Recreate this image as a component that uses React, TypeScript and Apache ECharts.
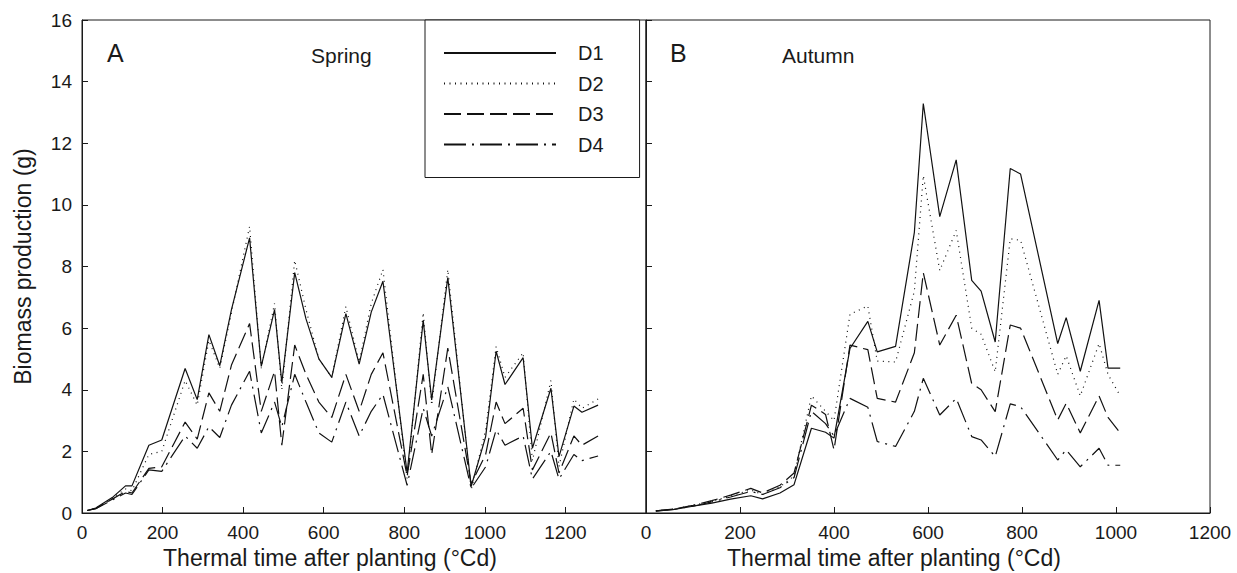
import React, { useEffect, useRef } from "react";
import * as echarts from "echarts";

const springX = [13, 34, 75, 108, 124, 166, 198, 256, 286, 315, 342, 371, 416, 445, 478, 496, 528, 556, 588, 620, 655, 688, 718, 747, 807, 847, 868, 908, 966, 1002, 1028, 1050, 1095, 1118, 1164, 1184, 1221, 1241, 1281];
const springD1 = [0.08, 0.16, 0.5, 0.88, 0.88, 2.2, 2.37, 4.69, 3.68, 5.79, 4.78, 6.6, 8.93, 4.76, 6.6, 4.23, 7.8, 6.3, 5.0, 4.4, 6.47, 4.83, 6.52, 7.52, 1.3, 6.25, 3.67, 7.64, 0.86, 2.48, 5.25, 4.17, 5.04, 2.1, 4.05, 1.83, 3.47, 3.27, 3.5];
const springD2 = [0.08, 0.15, 0.48, 0.78, 0.72, 1.9, 2.0, 4.3, 3.5, 5.6, 4.7, 6.5, 9.3, 4.7, 6.8, 4.0, 8.2, 6.6, 5.0, 4.4, 6.7, 4.9, 6.8, 7.9, 1.1, 6.5, 3.5, 7.9, 0.75, 2.7, 5.4, 4.4, 5.2, 1.7, 4.3, 1.5, 3.7, 3.4, 3.7];
const springD3 = [0.08, 0.14, 0.45, 0.7, 0.65, 1.45, 1.5, 2.95, 2.4, 3.9, 3.3, 4.8, 6.15, 3.3, 4.6, 2.2, 5.45, 4.5, 3.6, 3.1, 4.5, 3.3, 4.5, 5.2, 1.2, 4.5, 1.9, 5.35, 0.95, 1.9, 3.6, 2.9, 3.4, 1.4, 2.6, 1.3, 2.5, 2.2, 2.5];
const springD4 = [0.08, 0.14, 0.42, 0.65, 0.6, 1.4, 1.35, 2.5, 2.1, 2.8, 2.45, 3.5, 4.6, 2.6, 3.6, 2.8, 4.5, 3.6, 2.6, 2.3, 3.6, 2.5, 3.3, 3.85, 0.9, 3.4, 2.5, 4.1, 0.8, 1.5, 2.7, 2.2, 2.5, 1.1, 2.0, 1.1, 1.9, 1.7, 1.85];

const autumnX = [21, 60, 100, 140, 180, 223, 248, 285, 315, 352, 382, 400, 434, 472, 492, 531, 571, 590, 625, 660, 693, 713, 743, 775, 797, 876, 894, 924, 964, 983, 1009];
const autumnD1 = [0.07, 0.12, 0.22, 0.32, 0.45, 0.56, 0.46, 0.65, 0.92, 2.75, 2.62, 2.43, 5.34, 6.22, 5.23, 5.41, 9.11, 13.29, 9.62, 11.46, 7.55, 7.2, 5.55, 11.18, 11.0, 5.5, 6.34, 4.6, 6.9, 4.7, 4.7];
const autumnD2 = [0.07, 0.13, 0.25, 0.38, 0.55, 0.75, 0.6, 0.85, 1.2, 3.8, 3.3, 3.0, 6.45, 6.72, 4.93, 4.9, 7.2, 10.95, 7.87, 9.17, 6.0, 5.8, 4.58, 8.9, 8.85, 4.5, 5.1, 3.8, 5.5, 4.5, 3.8];
const autumnD3 = [0.07, 0.13, 0.25, 0.4, 0.58, 0.8, 0.65, 0.9, 1.3, 3.5, 3.2, 2.05, 5.45, 5.3, 3.72, 3.6, 5.2, 7.8, 5.45, 6.42, 4.2, 4.0, 3.29, 6.1, 6.0, 3.02, 3.56, 2.6, 3.8, 3.1, 2.6];
const autumnD4 = [0.06, 0.12, 0.22, 0.36, 0.52, 0.7, 0.6, 0.82, 1.15, 3.3, 2.9, 2.5, 3.72, 3.43, 2.32, 2.16, 3.3, 4.37, 3.18, 3.72, 2.48, 2.37, 1.83, 3.54, 3.45, 1.72, 2.05, 1.5, 2.1, 1.55, 1.55];

const seriesNames = ["D1", "D2", "D3", "D4"];
const xAxisTitle = "Thermal time after planting (°Cd)";
const yAxisTitle = "Biomass production (g)";

const FONT = "Liberation Sans";
const INK = "#1a1a1a";

const dashTypes: any[] = ["solid", [1, 4.5], [17, 6], [22, 6, 2, 6]];

const zip = (xs: number[], ys: number[]) => xs.map((x, i) => [x, ys[i]]);

export default function App() {
  const ref = useRef<HTMLDivElement>(null);
  useEffect(() => {
    if (!ref.current) return;
    const chart = echarts.init(ref.current, undefined, { renderer: "svg" });
    const axisCommon = {
      axisLine: { lineStyle: { color: INK, width: 1 } },
      axisTick: { inside: true, length: 6, lineStyle: { color: INK } },
      splitLine: { show: false },
      axisLabel: { fontSize: 19, color: INK, fontFamily: FONT, margin: 10, formatter: (v: number) => String(v) },
      nameTextStyle: { fontSize: 23, color: INK, fontFamily: FONT },
    };
    const spring = [springD1, springD2, springD3, springD4];
    const autumn = [autumnD1, autumnD2, autumnD3, autumnD4];
    const series: any[] = [];
    seriesNames.forEach((name, i) => {
      series.push({
        name,
        type: "line",
        xAxisIndex: 0,
        yAxisIndex: 0,
        symbol: "none",
        data: zip(springX, spring[i]),
        lineStyle: { color: "#111", width: 1.2, type: dashTypes[i] },
        itemStyle: { color: "#111" },
      });
    });
    seriesNames.forEach((name, i) => {
      series.push({
        name,
        type: "line",
        xAxisIndex: 1,
        yAxisIndex: 1,
        symbol: "none",
        data: zip(autumnX, autumn[i]),
        lineStyle: { color: "#111", width: 1.2, type: dashTypes[i] },
        itemStyle: { color: "#111" },
      });
    });
    const xName = { ...axisCommon.nameTextStyle, padding: [0, 68, 0, 0] };
    chart.setOption({
      animation: false,
      backgroundColor: "#fff",
      textStyle: { fontFamily: FONT },
      grid: [
        { left: 82, top: 20, width: 564, height: 493, show: true, borderColor: INK, borderWidth: 1, containLabel: false, outerBoundsMode: "none" },
        { left: 646, top: 20, width: 564, height: 493, show: true, borderColor: INK, borderWidth: 1, containLabel: false, outerBoundsMode: "none" },
      ],
      xAxis: [
        {
          ...axisCommon,
          type: "value",
          gridIndex: 0,
          min: 0,
          max: 1400,
          interval: 200,
          axisLabel: { ...axisCommon.axisLabel, showMaxLabel: false },
          name: xAxisTitle,
          nameLocation: "middle",
          nameGap: 22,
          nameTextStyle: xName,
        },
        {
          ...axisCommon,
          type: "value",
          gridIndex: 1,
          min: 0,
          max: 1200,
          interval: 200,
          name: xAxisTitle,
          nameLocation: "middle",
          nameGap: 22,
          nameTextStyle: xName,
        },
      ],
      yAxis: [
        {
          ...axisCommon,
          type: "value",
          gridIndex: 0,
          min: 0,
          max: 16,
          interval: 2,
          name: yAxisTitle,
          nameLocation: "middle",
          nameGap: 48,
        },
        {
          ...axisCommon,
          type: "value",
          gridIndex: 1,
          min: 0,
          max: 16,
          interval: 2,
          axisLabel: { show: false },
        },
      ],
      legend: {
        data: seriesNames,
        orient: "vertical",
        left: 425,
        top: 20,
        itemWidth: 112,
        itemHeight: 14,
        itemGap: 10.5,
        padding: [23, 36, 23, 18],
        borderColor: INK,
        borderWidth: 1,
        backgroundColor: "#fff",
        itemStyle: { opacity: 0, borderWidth: 0 },
        textStyle: { fontSize: 20, color: INK, fontFamily: FONT, padding: [0, 0, 0, 17] },
      },
      graphic: [
        { type: "text", left: 107, top: 40, style: { text: "A", fontSize: 25, fill: INK, fontFamily: FONT } },
        { type: "text", left: 311, top: 45, style: { text: "Spring", fontSize: 21, fill: INK, fontFamily: FONT } },
        { type: "text", left: 670, top: 40, style: { text: "B", fontSize: 25, fill: INK, fontFamily: FONT } },
        { type: "text", left: 782, top: 45, style: { text: "Autumn", fontSize: 21, fill: INK, fontFamily: FONT } },
      ],
      series,
    });
    return () => chart.dispose();
  }, []);
  return (
    <div style={{ position: "fixed", left: 0, top: 0, width: 1237, height: 573 }}>
      <div ref={ref} style={{ width: 1237, height: 573 }} />
    </div>
  );
}
